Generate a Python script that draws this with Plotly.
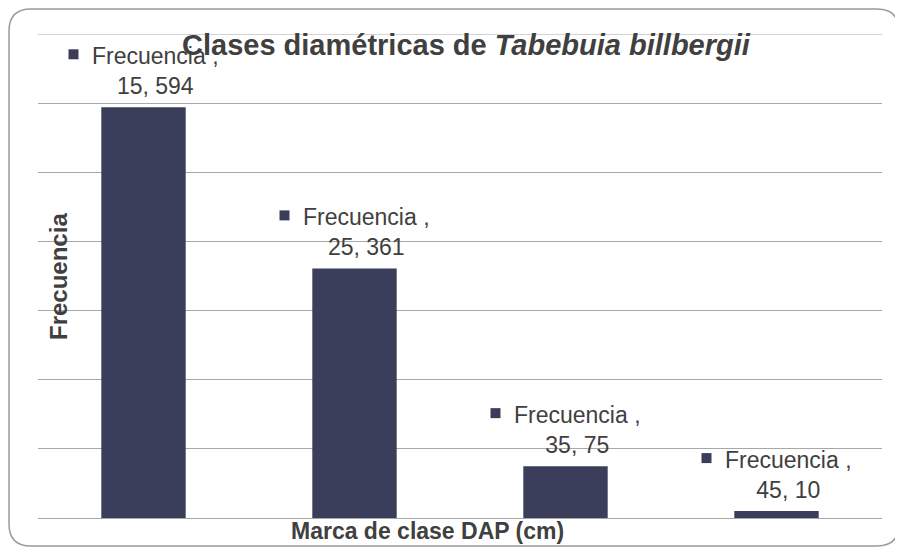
import plotly.graph_objects as go

categories = [15, 25, 35, 45]
values = [594, 361, 75, 10]
series_name = "Frecuencia"
title_plain = "Clases diamétricas de "
title_italic = "Tabebuia billbergii"
x_title = "Marca de clase DAP (cm)"
y_title = "Frecuencia"
y_max = 700

OFF = 8  # page body margin
W, H = 903 - OFF, 549 - OFF
# plot area in screen pixels
PL, PR, PT, PB = 38, 882, 34, 518
L, T = PL - OFF, PT - OFF
R, B = W - (PR - OFF), H - (PB - OFF)
BAR = "#3b3e5b"
TXT = "#404040"
GRID = "#a8a8a8"
FONT = "Liberation Sans, Arial, sans-serif"

fig = go.Figure()
fig.add_trace(go.Bar(x=categories, y=values, width=4, marker=dict(color=BAR, line=dict(width=0)),
                     name=series_name, showlegend=False))

pw, ph = PR - PL, PB - PT
def px2paper(px, py):
    return (px - PL) / pw, (PB - py) / ph

annotations = []
shapes = []
# top gridline (edge gridline is not drawn by plotly)
shapes.append(dict(type="line", xref="paper", yref="y", x0=0, x1=1, y0=y_max, y1=y_max,
                   line=dict(color=GRID, width=1), layer="below"))
for c, v in zip(categories, values):
    annotations.append(dict(x=c, y=v, xref="x", yref="y", text=f"{series_name} ,<br>{c}, {v}",
                            showarrow=False, xanchor="center", yanchor="bottom", xshift=12, yshift=6,
                            align="center", font=dict(family=FONT, size=23, color=TXT)))
    shapes.append(dict(type="rect", xref="x", yref="y", xsizemode="pixel", ysizemode="pixel",
                       xanchor=c, yanchor=v, x0=-75, x1=-65, y0=48, y1=58,
                       fillcolor=BAR, line=dict(width=0)))

# title
tx, ty = px2paper(466, 45)
annotations.append(dict(x=tx, y=ty, xref="paper", yref="paper", showarrow=False,
                        text=f"<b>{title_plain}<i>{title_italic}</i></b>",
                        xanchor="center", yanchor="middle",
                        font=dict(family=FONT, size=29, color=TXT)))
# axis titles
ax, ay = px2paper(58, 277)
annotations.append(dict(x=ax, y=ay, xref="paper", yref="paper", showarrow=False, textangle=-90,
                        text=f"<b>{y_title}</b>", xanchor="center", yanchor="middle",
                        font=dict(family=FONT, size=24, color=TXT)))
bx, by = px2paper(427, 531)
annotations.append(dict(x=bx, y=by, xref="paper", yref="paper", showarrow=False,
                        text=f"<b>{x_title}</b>", xanchor="center", yanchor="middle",
                        font=dict(family=FONT, size=23, color=TXT)))

# rounded border around chart (screen pixel coords)
x0p, y0p, x1p, y1p, r = 9, 9, 899, 546, 22
def P(px, py):
    a, b = px2paper(px, py)
    return f"{a:.5f},{b:.5f}"
path = (f"M {P(x0p + r, y0p)} L {P(x1p - r, y0p)} Q {P(x1p, y0p)} {P(x1p, y0p + r)} "
        f"L {P(x1p, y1p - r)} Q {P(x1p, y1p)} {P(x1p - r, y1p)} "
        f"L {P(x0p + r, y1p)} Q {P(x0p, y1p)} {P(x0p, y1p - r)} "
        f"L {P(x0p, y0p + r)} Q {P(x0p, y0p)} {P(x0p + r, y0p)} Z")
shapes.append(dict(type="path", xref="paper", yref="paper", path=path,
                   line=dict(color="#9a9a9a", width=1.5), layer="below"))

fig.update_layout(
    width=W, height=H, margin=dict(l=L, r=R, t=T, b=B, autoexpand=False),
    paper_bgcolor="white", plot_bgcolor="white",
    annotations=annotations, shapes=shapes, showlegend=False,
    xaxis=dict(range=[10, 50], showticklabels=False, showgrid=False, zeroline=False,
               showline=False, ticks=""),
    yaxis=dict(range=[0, y_max], dtick=100, showticklabels=False, showgrid=True,
               gridcolor=GRID, gridwidth=1, zeroline=True, zerolinecolor=GRID,
               zerolinewidth=1, showline=False, ticks=""),
)
fig.write_html("out.html")
